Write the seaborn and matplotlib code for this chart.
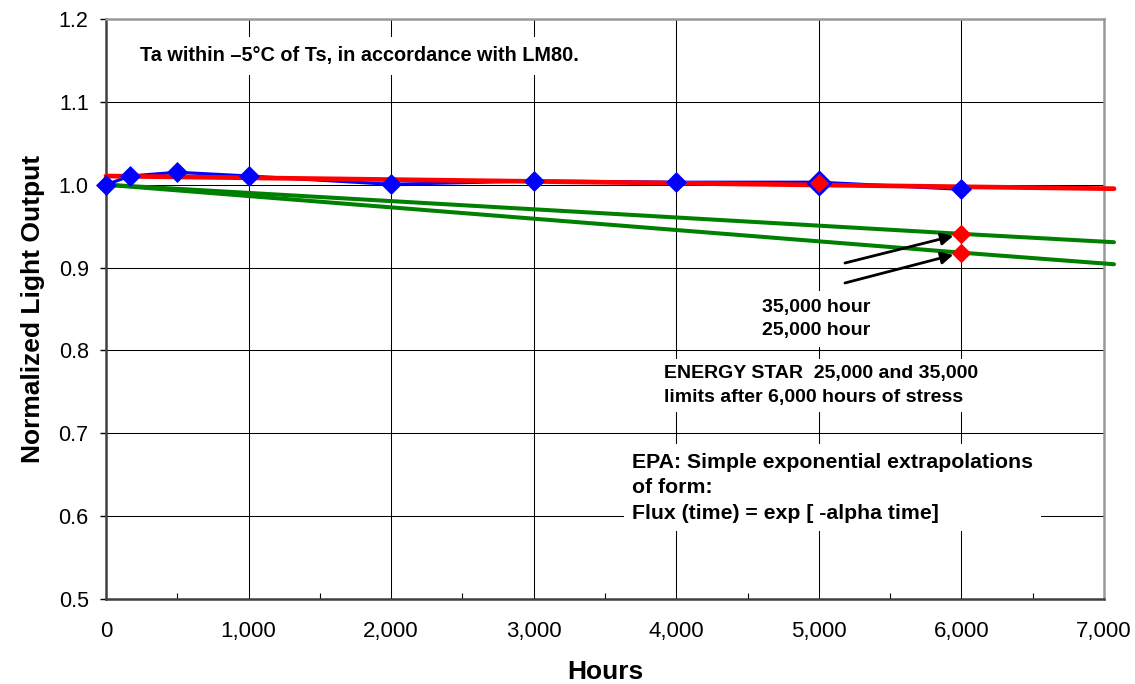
import matplotlib
matplotlib.use("Agg")
import matplotlib.pyplot as plt
import matplotlib.ticker as mticker
import pandas as pd
import seaborn as sns

# Measured lumen maintenance (normalized light output vs. hours of stress)
meas_hours = [0, 168, 500, 1000, 2000, 3000, 4000, 5000, 6000]
meas_output = [1.000, 1.0105, 1.015, 1.0105, 1.0005, 1.0045, 1.003, 1.003, 0.9945]

# Exponential fit through the measured data
fit_hours = [0, 7070]
fit_output = [1.0105, 0.9952]

# ENERGY STAR decay curves (35,000 h and 25,000 h lifetimes)
es35_hours = [0, 6000, 7070]
es35_output = [1.000, 0.9407, 0.9306]
es25_hours = [0, 6000, 7070]
es25_output = [1.000, 0.9180, 0.9040]

# Fitted value at 5,000 h and ENERGY STAR limits after 6,000 h
fit5k_hours = [5000]
fit5k_output = [1.002]
limit_hours = [6000, 6000]
limit_output = [0.9407, 0.9180]

x_ticks = [0, 1000, 2000, 3000, 4000, 5000, 6000, 7000]
y_ticks = [0.5, 0.6, 0.7, 0.8, 0.9, 1.0, 1.1, 1.2]

sns.set_theme(style="white")
plt.rcParams["font.family"] = ["Liberation Sans", "DejaVu Sans"]

fig = plt.figure(figsize=(11.35, 6.84), dpi=100)
ax = fig.add_axes([0.0934, 0.1243, 0.8793, 0.8479])

meas = pd.DataFrame({"hours": meas_hours, "output": meas_output})
fit = pd.DataFrame({"hours": fit_hours, "output": fit_output})
es35 = pd.DataFrame({"hours": es35_hours, "output": es35_output})
es25 = pd.DataFrame({"hours": es25_hours, "output": es25_output})
fit5k = pd.DataFrame({"hours": fit5k_hours, "output": fit5k_output})
lim = pd.DataFrame({"hours": limit_hours, "output": limit_output})

for df in (es35, es25):
    sns.lineplot(data=df, x="hours", y="output", ax=ax, color="#008000",
                 linewidth=2.9, zorder=3, clip_on=False)

sns.lineplot(data=meas, x="hours", y="output", ax=ax, color="#0000FF",
             linewidth=2.3, zorder=3.5, clip_on=False)

sns.lineplot(data=fit, x="hours", y="output", ax=ax, color="#FF0000",
             linewidth=3.4, zorder=4, clip_on=False)

sns.scatterplot(data=meas, x="hours", y="output", ax=ax, color="#0000FF",
                marker="D", s=115, linewidth=0, zorder=5, clip_on=False)

sns.scatterplot(data=fit5k, x="hours", y="output", ax=ax, color="#FF0000",
                marker="D", s=135, edgecolor="#0000FF", linewidth=1.8, zorder=6)

sns.scatterplot(data=lim, x="hours", y="output", ax=ax, color="#FF0000",
                marker="D", s=100, linewidth=0, zorder=6)

ax.set_xlim(0, 7000)
ax.set_ylim(0.5, 1.2)
ax.set_xticks(x_ticks)
ax.set_yticks(y_ticks)
ax.xaxis.set_minor_locator(mticker.MultipleLocator(500))
ax.xaxis.set_major_formatter(mticker.FuncFormatter(lambda v, p: f"{int(v):,}"))
ax.yaxis.set_major_formatter(mticker.FormatStrFormatter("%.1f"))

ax.grid(True, which="major", color="#000000", linewidth=0.75, zorder=0)
ax.set_axisbelow(True)

for side in ("left", "bottom"):
    ax.spines[side].set_color("#404040")
    ax.spines[side].set_linewidth(1.8)
for side in ("top", "right"):
    ax.spines[side].set_color("#999999")
    ax.spines[side].set_linewidth(1.8)

ax.tick_params(axis="x", which="major", direction="inout", length=9, width=1,
               color="#000000", labelsize=16, pad=11, labelcolor="#000000")
ax.tick_params(axis="x", which="minor", direction="in", length=4, width=0.8,
               color="#000000", bottom=True)
ax.tick_params(axis="y", which="major", direction="out", length=4.5, width=1,
               color="#000000", labelsize=15.5, pad=8, left=True,
               labelcolor="#000000")

ax.set_xlabel("Hours", fontsize=19, fontweight="bold", labelpad=13, color="#000000")
ax.set_ylabel("Normalized Light Output", fontsize=19, fontweight="bold",
              labelpad=10, color="#000000")

white_box = dict(facecolor="white", edgecolor="none")

fig.text(140 / 1135, 1 - 56 / 684,
         "Ta within \u20135\u00b0C of Ts, in accordance with LM80.",
         fontsize=14.3, fontweight="bold", va="center", ha="left", color="#000000",
         bbox=dict(white_box, pad=7))

ax.text(4980, 0.8380, "35,000 hour\n25,000 hour", fontsize=14, fontweight="bold",
        ha="center", va="center", linespacing=1.45, color="#000000",
        bbox=dict(white_box, pad=6), zorder=6)
ax.text(3914, 0.7577, "ENERGY STAR  25,000 and 35,000\nlimits after 6,000 hours of stress",
        fontsize=14, fontweight="bold", ha="left", va="center", linespacing=1.6,
        color="#000000", bbox=dict(white_box, pad=4), zorder=6)
ax.text(3689, 0.6340, "EPA: Simple exponential extrapolations\nof form:\nFlux (time) = exp [ -alpha time]",
        fontsize=15.3, fontweight="bold", ha="left", va="center", linespacing=1.45,
        color="#000000", bbox=dict(white_box, pad=6), zorder=6)

arrow = dict(arrowstyle="-|>", color="black", lw=2, mutation_scale=18,
             shrinkA=0, shrinkB=6)
ax.annotate("", xy=(6000, limit_output[0]), xytext=(5183, 0.9055), arrowprops=arrow, zorder=7)
ax.annotate("", xy=(6000, limit_output[1]), xytext=(5183, 0.8814), arrowprops=arrow, zorder=7)

fig.savefig("out.png", dpi=100)
